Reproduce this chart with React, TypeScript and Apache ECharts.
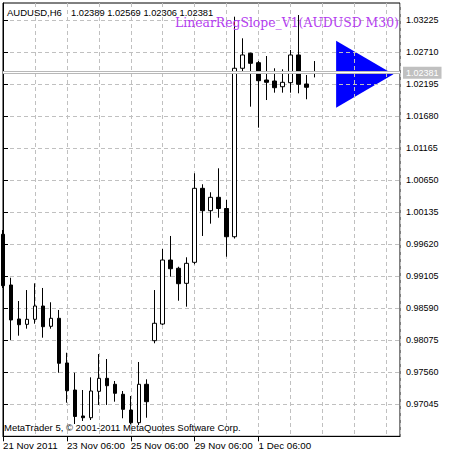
import React, { useEffect, useRef } from 'react';
import * as echarts from 'echarts';

const symbolName = 'AUDUSD,H6';
const headerQuote = '1.02389 1.02569 1.02306 1.02381';
const indicatorName = 'LinearRegSlope_V1(AUDUSD M30)';
const copyright = 'MetaTrader 5, © 2001-2011 MetaQuotes Software Corp.';

// H6 bars, left to right (the first one is cut by the left edge)
const opens = [
  0.99781, 0.98965, 0.98418, 0.98332, 0.98413, 0.98627, 0.983, 0.98429, 0.9771, 0.97275,
  0.96857, 0.96829, 0.97254, 0.97463, 0.97367, 0.97206, 0.96953, 0.96749, 0.97367, 0.98069,
  0.98337, 0.99367, 0.99234, 0.98992, 0.9933, 1.00521, 1.00161, 1.00376, 1.00196, 0.99742,
  1.02453, 1.02694, 1.02543, 1.02264, 1.02248, 1.02156, 1.02221, 1.02667, 1.022, 1.02389,
];
const closes = [
  0.98954, 0.98402, 0.98326, 0.98413, 0.98627, 0.98294, 0.98429, 0.97705, 0.97264, 0.96849,
  0.96829, 0.97259, 0.97463, 0.97344, 0.97222, 0.96964, 0.96749, 0.97367, 0.97087, 0.98349,
  0.99367, 0.99227, 0.98986, 0.99314, 1.00521, 1.00161, 1.00376, 1.00196, 0.99742, 1.02453,
  1.02667, 1.02533, 1.02253, 1.02227, 1.0214, 1.02227, 1.02667, 1.02195, 1.02147, 1.02381,
];
const lows = [
  0.98917, 0.9808, 0.98149, 0.98262, 0.98342, 0.98117, 0.98262, 0.97553, 0.97071, 0.96728,
  0.96776, 0.96792, 0.97034, 0.97034, 0.97087, 0.9682, 0.9672, 0.96712, 0.96829, 0.98027,
  0.98321, 0.99099, 0.98712, 0.98616, 0.99298, 0.99754, 0.99952, 1.00048, 0.9942, 0.99713,
  1.02372, 1.01835, 1.01497, 1.01942, 1.0206, 1.0206, 1.0206, 1.0205, 1.01954, 1.02306,
];
const highs = [
  0.9985, 0.99082, 0.98707, 0.98884, 0.98992, 0.98917, 0.98687, 0.98563, 0.97875, 0.97553,
  0.97275, 0.97479, 0.97854, 0.97774, 0.9742, 0.97259, 0.97179, 0.97726, 0.97447, 0.98884,
  0.99544, 0.99754, 0.99259, 0.99411, 1.00763, 1.00586, 1.00457, 1.00843, 1.00333, 1.03283,
  1.02935, 1.02704, 1.0257, 1.0265, 1.02453, 1.02436, 1.02747, 1.0331, 1.02345, 1.02569,
];

const dateTickIndex = [0, 8, 16, 24, 32];
const dateTickText = ['21 Nov 2011', '23 Nov 06:00', '25 Nov 06:00', '29 Nov 06:00', '1 Dec 06:00'];
const priceTicks = [
  0.97045, 0.9756, 0.98075, 0.9859, 0.99105, 0.9962, 1.00135, 1.0065, 1.01165, 1.0168,
  1.02195, 1.0271, 1.03225,
];
const bidPrice = 1.02381;
// indicator arrow: bar position and price
const arrowPoint = [45.3, 1.02358];

const FONT = '"Liberation Sans", Arial, sans-serif';
const GRID = '#c0c0c0';

const App: React.FC = () => {
  const chartRef = useRef<HTMLDivElement>(null);

  useEffect(() => {
    if (!chartRef.current) return;
    const chart = echarts.init(chartRef.current, null, { renderer: 'svg' });

    const candles = opens.map((o, i) => [i, o, closes[i], lows[i], highs[i]]);
    const xMax = 49.7125;

    const option: echarts.EChartsOption = {
      animation: false,
      backgroundColor: '#ffffff',
      grid: {
        left: 2.3,
        top: 3,
        width: 397.7,
        height: 433.3,
        show: true,
        borderColor: '#000',
        borderWidth: 1,
      },
      xAxis: [
        {
          type: 'value',
          min: 0,
          max: xMax,
          interval: 4,
          position: 'bottom',
          axisLine: { show: true, lineStyle: { color: '#000', width: 1 } },
          axisTick: { show: false },
          axisLabel: { show: false },
          splitLine: { show: true, lineStyle: { color: GRID, type: [4, 3], width: 1 } },
        },
        {
          type: 'value',
          min: 0,
          max: xMax,
          position: 'bottom',
          axisLine: { show: false },
          splitLine: { show: false },
          axisTick: {
            show: true,
            customValues: dateTickIndex,
            length: 5,
            lineStyle: { color: '#000' },
          },
          axisLabel: {
            customValues: dateTickIndex,
            formatter: (v: number) => {
              const k = dateTickIndex.indexOf(Math.round(v));
              return k >= 0 ? dateTickText[k] : '';
            },
            align: 'left',
            margin: 4,
            color: '#000',
            fontFamily: FONT,
            fontSize: 9.75,
          },
        } as any,
      ],
      yAxis: {
        type: 'value',
        position: 'right',
        min: 0.9653,
        max: 1.035034,
        interval: 0.00515,
        axisLine: { show: true, lineStyle: { color: '#000', width: 1 } },
        axisTick: {
          show: true,
          customValues: priceTicks,
          length: 5,
          lineStyle: { color: '#000' },
        },
        axisLabel: {
          customValues: priceTicks,
          formatter: (v: number) => v.toFixed(5),
          margin: 6,
          color: '#000',
          fontFamily: FONT,
          fontSize: 9,
        },
        splitLine: { show: true, lineStyle: { color: GRID, type: [4, 3], width: 1 } },
      } as any,
      series: [
        {
          type: 'scatter',
          z: -1,
          silent: true,
          symbol: 'triangle',
          symbolSize: [67, 57.3],
          symbolRotate: -90,
          itemStyle: { color: '#0000ff', opacity: 1 },
          data: [arrowPoint],
        },
        {
          type: 'candlestick',
          xAxisIndex: 0,
          yAxisIndex: 0,
          barWidth: 4,
          encode: { x: 0, y: [1, 2, 3, 4] },
          itemStyle: {
            color: '#ffffff',
            color0: '#000000',
            borderColor: '#000000',
            borderColor0: '#000000',
            borderColorDoji: '#000000',
            borderWidth: 1,
          },
          data: candles,
        } as any,
        {
          // bid price line
          type: 'line',
          data: [],
          silent: true,
          markLine: {
            silent: true,
            symbol: 'none',
            animation: false,
            precision: 5,
            data: [
              {
                yAxis: bidPrice,
                lineStyle: { color: '#b8b8b8', width: 3, type: 'solid' },
                label: {
                  show: true,
                  position: 'end',
                  distance: 3,
                  formatter: () => bidPrice.toFixed(5),
                  color: '#ffffff',
                  backgroundColor: '#c0c0c0',
                  padding: [2, 3, 1, 3],
                  fontFamily: FONT,
                  fontSize: 9,
                },
              },
              {
                yAxis: bidPrice,
                lineStyle: { color: '#ffffff', width: 1, type: 'solid' },
                label: { show: false },
              },
            ],
          },
        } as any,
      ],
      graphic: [
        {
          type: 'text',
          x: 7,
          y: 12.8,
          z: 100,
          style: {
            text: symbolName,
            fill: '#000',
            font: `9.5px ${FONT}`,
            verticalAlign: 'middle',
            textVerticalAlign: 'middle',
          },
        },
        {
          type: 'text',
          x: 71,
          y: 12.8,
          z: 100,
          style: {
            text: headerQuote,
            fill: '#000',
            font: `9.3px ${FONT}`,
            verticalAlign: 'middle',
            textVerticalAlign: 'middle',
          },
        },
        {
          type: 'text',
          x: 175,
          y: 22,
          z: 100,
          style: {
            text: indicatorName,
            fill: '#b43cf0',
            font: '12.4px "DejaVu Serif", "Liberation Serif", serif',
            verticalAlign: 'middle',
            textVerticalAlign: 'middle',
          },
        },
        {
          type: 'text',
          x: 4,
          y: 427.3,
          z: 100,
          style: {
            text: copyright,
            fill: '#000',
            font: `9.5px ${FONT}`,
            verticalAlign: 'middle',
            textVerticalAlign: 'middle',
          },
        },
      ],
    };

    chart.setOption(option);

    return () => {
      chart.dispose();
    };
  }, []);

  return (
    <div
      ref={chartRef}
      style={{ position: 'fixed', left: 0, top: 0, width: 453, height: 456, background: '#fff' }}
    />
  );
};

export default App;
